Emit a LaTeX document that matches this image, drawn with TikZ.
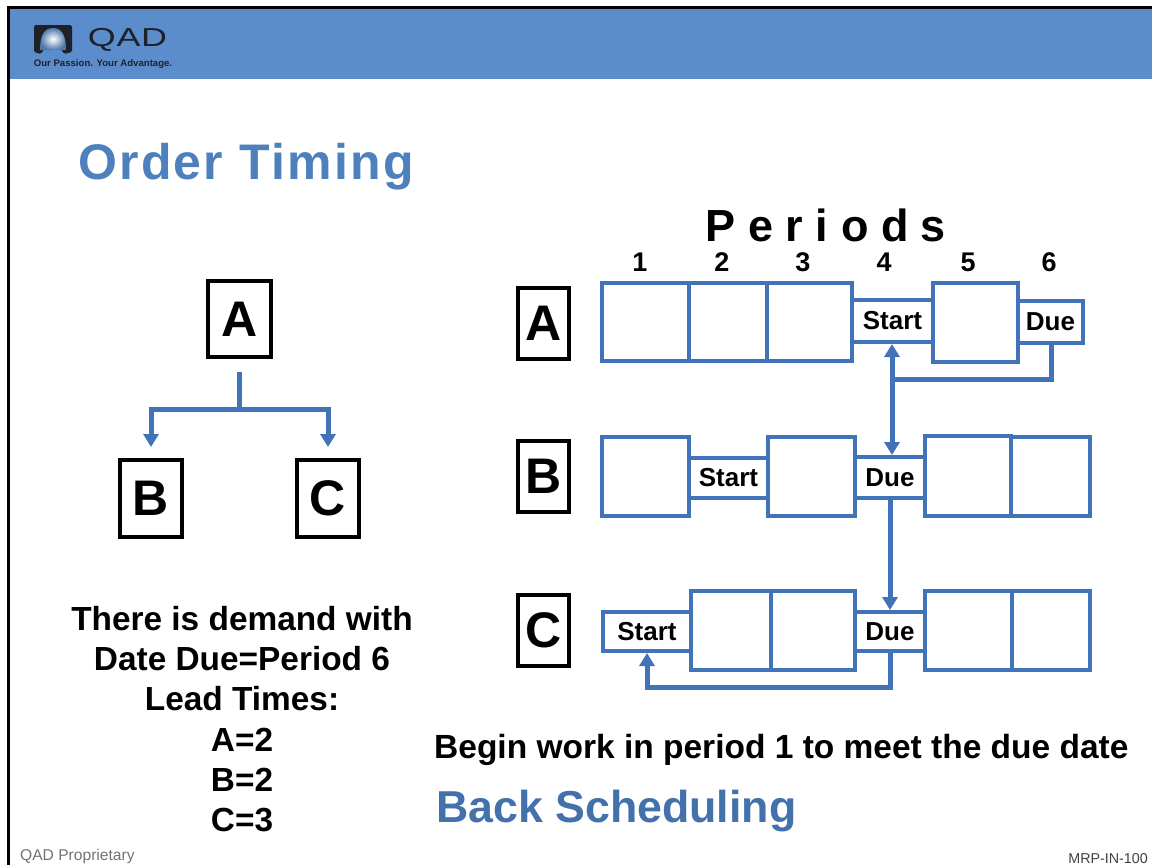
\documentclass[tikz,border=0pt]{standalone}
\usepackage{fontspec}
\setmainfont{Liberation Sans}
\usetikzlibrary{arrows.meta,calc}
\definecolor{hdr}{RGB}{91,141,205}
\definecolor{ttl}{RGB}{78,128,190}
\definecolor{bs}{RGB}{67,113,172}
\definecolor{ln}{RGB}{66,114,184}
\definecolor{dk}{RGB}{32,32,40}
\tikzset{
 x=1pt,y=-1pt,
 cell/.style={draw=ln,line width=4pt,fill=white,minimum width=0pt,minimum height=0pt,inner sep=0pt,font=\bfseries\fontsize{26}{26}\selectfont},
 lbl/.style={draw=black,line width=3.6pt,fill=white,inner sep=0pt,font=\bfseries\fontsize{50}{50}\selectfont},
 wire/.style={draw=ln,line width=5pt},
 tip/.style={-{Triangle[length=13pt,width=15pt]}},
 txt/.style={inner sep=0pt,font=\bfseries\fontsize{33.4}{33.4}\selectfont,text=black},
 per/.style={inner sep=0pt,font=\bfseries\fontsize{27}{27}\selectfont,text=black},
}
\newcommand{\cellbox}[6]{\node[cell,minimum width=#4-#2,minimum height=#5-#3] (#1) at ({(#2+#4)/2},{(#3+#5)/2}) {\raisebox{-0.7pt}{#6}};}
\newcommand{\lblbox}[6]{\node[lbl,minimum width=#4-#2,minimum height=#5-#3] (#1) at ({(#2+#4)/2},{(#3+#5)/2}) {\raisebox{-1.5pt}{#6}};}
\begin{document}
\begin{tikzpicture}
\useasboundingbox (0,0) rectangle (1152,865);
\fill[white] (0,0) rectangle (1152,865);
\fill[hdr] (8,8) rectangle (1152,79);
\draw[black,line width=3pt] (8.5,865) -- (8.5,7) -- (1152,7);
% logo
\fill[dk,rounded corners=1.5pt] (34,25) -- (72,25) -- (72,52) -- (64,54) -- (61,49) -- (44,49) -- (41,54) -- (34,52) -- cycle;
\shade[inner color=white,outer color=hdr!85!black] (40,50) .. controls (40,34) and (45,28) .. (53,28) .. controls (61,28) and (66,34) .. (66,50) -- cycle;
\node[inner sep=0pt,text=dk,font=\fontsize{26}{26}\selectfont,xscale=1.38] (qad) at (127.5,39.5) {\addfontfeature{LetterSpace=2}QAD};
\node[inner sep=0pt,text=dk,font=\bfseries\fontsize{9.6}{9.6}\selectfont] (tag) at (103,64) {Our Passion. Your Advantage.};
% titles
\node[inner sep=0pt,text=ttl,anchor=base west,font=\fontsize{50}{50}\selectfont\bfseries] (title) at (78,179) {\addfontfeature{LetterSpace=4.5}Order Timing};
\node[inner sep=0pt,anchor=base,font=\bfseries\fontsize{45}{45}\selectfont] (periods) at (826,241) {P e r i o d s};
\node[per] (p1) at (640,262) {1};
\node[per] (p2) at (722,262) {2};
\node[per] (p3) at (803,262) {3};
\node[per] (p4) at (884,262) {4};
\node[per] (p5) at (968,262) {5};
\node[per] (p6) at (1049,262) {6};
% left tree
\lblbox{ta}{208}{281}{271}{357}{A}
\lblbox{tb}{120}{460}{182}{537}{B}
\lblbox{tc}{297}{460}{359}{537}{C}
\coordinate (j) at ($(ta.south)+(0,51)$);
\draw[wire] ($(ta.south)+(0,13)$) -- (j);
\draw[wire,tip] (j) -| (151,447);
\draw[wire,tip] (j) -| (328,447);
% left text
\node[txt] (t1) at (242,619) {There is demand with};
\node[txt] (t2) at (242,659) {Date Due=Period 6};
\node[txt] (t3) at (242,699) {Lead Times:};
\node[txt] (t4) at (242,740) {A=2};
\node[txt] (t5) at (242,780) {B=2};
\node[txt] (t6) at (242,820) {C=3};
% right labels
\lblbox{ra}{518}{288}{569}{359}{A}
\lblbox{rb}{518}{441}{569}{512}{B}
\lblbox{rc}{518}{595}{569}{666}{C}
% row A
\cellbox{a1}{602}{283}{689}{361}{}
\cellbox{a2}{689}{283}{767}{361}{}
\cellbox{a3}{767}{283}{852}{361}{}
\cellbox{a4}{852}{300}{933}{342}{Start}
\cellbox{a5}{933}{283}{1018}{362}{}
\cellbox{a6}{1018}{301}{1083}{343}{Due}
% row B
\cellbox{b1}{602}{437}{689}{516}{}
\cellbox{b2}{689}{458}{768}{498}{Start}
\cellbox{b3}{768}{437}{855}{516}{}
\cellbox{b4}{855}{457}{925}{498}{Due}
\cellbox{b5}{925}{436}{1011}{516}{}
\cellbox{b6}{1011}{437}{1090}{516}{}
% row C
\cellbox{c1}{603}{612}{691}{651}{Start}
\cellbox{c2}{691}{591}{771}{670}{}
\cellbox{c3}{771}{591}{855}{670}{}
\cellbox{c4}{855}{612}{925}{651}{Due}
\cellbox{c5}{925}{591}{1012}{670}{}
\cellbox{c6}{1012}{591}{1090}{670}{}
% connectors
\coordinate (a4s) at (892,344);
\coordinate (b4n) at (890,455);
\coordinate (b4s) at (890,499);
\coordinate (c4n) at (890,610);
\coordinate (c4s) at (890,652);
\coordinate (c1s) at (647,653);
\coordinate (a6s) at (1051,344);
\draw[wire,{Triangle[length=13pt,width=15pt]}-{Triangle[length=13pt,width=15pt]}] (a4s) -- (a4s |- b4n);
\draw[wire] (a6s) |- (892,379);
\draw[wire,tip] (b4s) -- (c4n);
\draw[wire,tip] (c4s) |- (647,687) -- (c1s);
% bottom text
\node[inner sep=0pt,anchor=base west,font=\bfseries\fontsize{33.5}{33.5}\selectfont] (begin) at (434,758) {Begin work in period 1 to meet the due date};
\node[inner sep=0pt,anchor=base west,text=bs,font=\bfseries\fontsize{44.7}{44.7}\selectfont] (back) at (436,822) {Back Scheduling};
\node[inner sep=0pt,anchor=base west,text=black!55,font=\fontsize{15.6}{15.6}\selectfont] (prop) at (20,860) {QAD Proprietary};
\node[inner sep=0pt,anchor=base east,text=black!75,font=\fontsize{14.3}{14.3}\selectfont] (code) at (1148,863) {MRP-IN-100};
\end{tikzpicture}
\end{document}
